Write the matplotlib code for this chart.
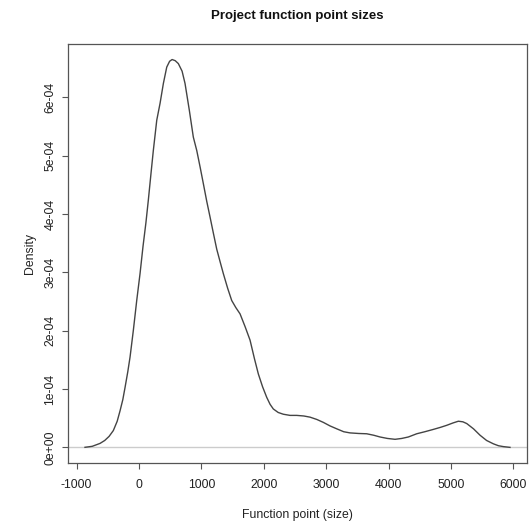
import matplotlib
matplotlib.use('Agg')
import matplotlib.pyplot as plt

plt.rcParams['font.family'] = ['Liberation Sans', 'DejaVu Sans']
plt.rcParams['axes.unicode_minus'] = False

# Density curve (x in function points, y in density units of 1e-4)
fp_size = [-866, -750, -625, -550, -480, -412, -350, -304, -260, -224, -180, -144,
           -91, -37, 16, 64, 110, 149, 190, 229, 284, 337, 390, 444, 490, 530,
           580, 630, 690, 737, 806, 870, 925, 980, 1031, 1085, 1138, 1190, 1245,
           1300, 1351, 1420, 1485, 1550, 1619, 1700, 1779, 1850, 1912, 1980, 2046,
           2100, 2152, 2230, 2312, 2420, 2527, 2640, 2740, 2850, 2954, 3060, 3168,
           3280, 3381, 3520, 3648, 3760, 3862, 3980, 4103, 4210, 4316, 4450, 4580,
           4717, 4830, 4931, 5030, 5117, 5190, 5252, 5360, 5465, 5570, 5678, 5760,
           5838, 5945]
density_e4 = [0.003, 0.02, 0.07, 0.12, 0.19, 0.29, 0.45, 0.63, 0.82, 1.03, 1.30, 1.55,
              2.01, 2.52, 2.98, 3.45, 3.85, 4.24, 4.68, 5.09, 5.61, 5.90, 6.24, 6.52, 6.62, 6.65,
              6.63, 6.58, 6.45, 6.24, 5.78, 5.32, 5.09, 4.80, 4.52, 4.22, 3.95, 3.68, 3.40,
              3.18, 2.98, 2.73, 2.52, 2.40, 2.29, 2.07, 1.84, 1.52, 1.26, 1.04, 0.86,
              0.74, 0.66, 0.60, 0.57, 0.55, 0.55, 0.54, 0.52, 0.48, 0.43, 0.37, 0.32,
              0.27, 0.25, 0.24, 0.235, 0.21, 0.18, 0.155, 0.14, 0.155, 0.18, 0.235, 0.27,
              0.31, 0.345, 0.38, 0.42, 0.45, 0.44, 0.41, 0.32, 0.21, 0.12, 0.063, 0.03,
              0.015, 0.002]
density = [v * 1e-4 for v in density_e4]

xticks = [-1000, 0, 1000, 2000, 3000, 4000, 5000, 6000]
yticks = [0, 1e-4, 2e-4, 3e-4, 4e-4, 5e-4, 6e-4]
ytick_labels = ['0e+00', '1e-04', '2e-04', '3e-04', '4e-04', '5e-04', '6e-04']

fig = plt.figure(figsize=(5.32, 5.29), dpi=100)
ax = fig.add_axes([68 / 532, 66 / 529, 459 / 532, 419 / 529])

ax.axhline(0, color='#cccccc', lw=1.0, zorder=1)
ax.plot(fp_size, density, color='#444444', lw=1.0, zorder=2)
ax.margins(x=0.04, y=0.04)

ax.set_xticks(xticks)
ax.set_yticks(yticks)
ax.set_yticklabels(ytick_labels, rotation=90, va='center')

for s in ax.spines.values():
    s.set_color('#555555')
    s.set_linewidth(0.9)
ax.tick_params(direction='out', length=4.3, width=0.8, color='#555555',
               labelsize=8.8, labelcolor='#222222')
ax.tick_params(axis='x', pad=7)
ax.tick_params(axis='y', pad=4)

ax.set_xlabel('Function point (size)', fontsize=8.8, color='#222222', va='center')
ax.xaxis.set_label_coords(0.5, (463 - 515) / 419)
ax.set_ylabel('Density', fontsize=8.8, color='#222222', va='center')
ax.yaxis.set_label_coords((30 - 68) / 459, 0.5)

fig.text(297.5 / 532, 1 - 16 / 529, 'Project function point sizes',
         ha='center', va='center', fontsize=9.5, fontweight='bold', color='#111111')

fig.savefig('out.png', dpi=100)
